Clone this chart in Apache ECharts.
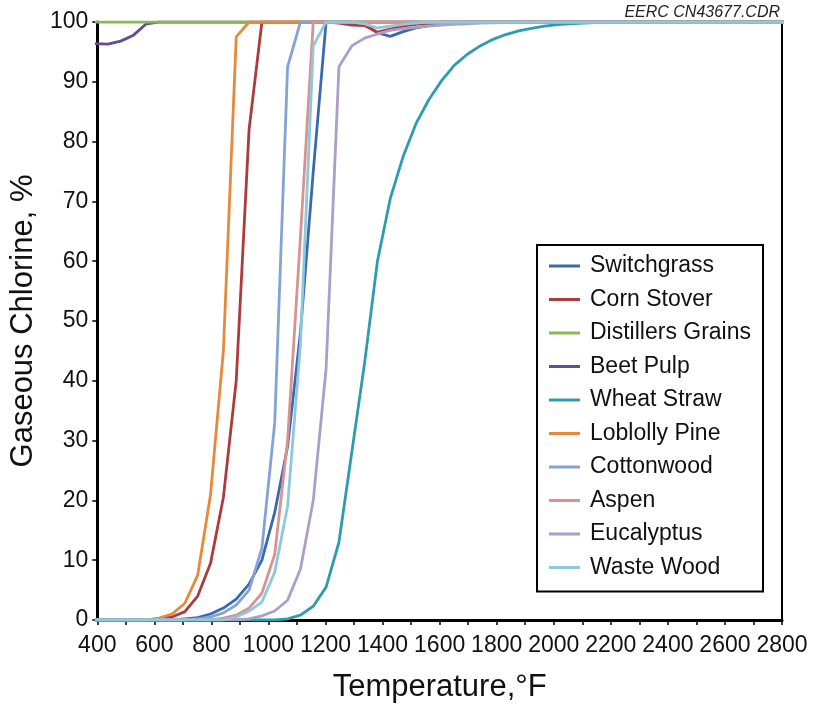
<!DOCTYPE html>
<html>
<head>
<meta charset="utf-8">
<script src="https://cdn.jsdelivr.net/npm/echarts@6/dist/echarts.min.js"></script>
<style>
html,body{margin:0;padding:0;background:#fff;}
#chart{width:817px;height:711px;}
</style>
</head>
<body>
<div id="chart"></div>
<script>
// Data: [temperature °F, gaseous chlorine %]
const seriesNames = ['Switchgrass','Corn Stover','Distillers Grains','Beet Pulp','Wheat Straw','Loblolly Pine','Cottonwood','Aspen','Eucalyptus','Waste Wood'];
const seriesColors = ['#3B69AF','#AE3A3B','#8DB851','#634B98','#2E9CAF','#E8883A','#83A3D8','#D8928F','#AD9DC9','#8CC9DB'];

const switchgrass = [[392,0],[662,0],[707,0.2],[752,0.4],[797,1.0],[842,2.0],[887,3.5],[932,6],[977,10],[1022,18],[1067,29],[1112,48],[1157,75],[1202,100],[1292,100],[1337,99.6],[1382,98.2],[1427,97.6],[1472,98.4],[1517,99.0],[1562,99.4],[1607,99.7],[1652,99.85],[1697,100],[2822,100]];
const cornStover = [[392,0],[572,0],[617,0.2],[662,0.5],[707,1.4],[752,4],[797,9.5],[842,20.5],[887,40],[932,82],[977,100],[1202,100],[1247,99.8],[1292,99.5],[1337,99.4],[1382,98.3],[1427,98.8],[1472,99.3],[1517,99.6],[1562,99.8],[1607,100],[2822,100]];
const distillersGrains = [[392,100],[2822,100]];
const beetPulp = [[392,96.4],[437,96.3],[482,96.8],[527,97.8],[572,99.7],[617,100],[2822,100]];
const wheatStraw = [[392,0],[1022,0],[1067,0.2],[1112,0.8],[1157,2.3],[1202,5.5],[1247,13],[1292,28],[1337,43],[1382,60],[1427,70.5],[1472,77.5],[1517,83],[1562,87],[1607,90.2],[1652,92.8],[1697,94.6],[1742,96],[1787,97.1],[1832,97.9],[1877,98.5],[1922,98.95],[1967,99.3],[2012,99.55],[2057,99.7],[2102,99.8],[2147,99.88],[2192,99.93],[2237,99.96],[2282,100],[2822,100]];
const loblollyPine = [[392,0],[572,0],[617,0.3],[662,1.0],[707,2.8],[752,7.5],[797,21],[842,45],[887,97.5],[932,100],[2822,100]];
const cottonwood = [[392,0],[707,0],[752,0.2],[797,0.5],[842,1.2],[887,2.5],[932,5],[977,12],[1022,33],[1067,92.5],[1112,100],[2822,100]];
const aspen = [[392,0],[797,0],[842,0.3],[887,0.8],[932,2],[977,4.5],[1022,11],[1067,30],[1112,64],[1157,100],[2822,100]];
const eucalyptus = [[392,0],[887,0],[932,0.2],[977,0.7],[1022,1.5],[1067,3.3],[1112,8.5],[1157,20],[1202,42],[1247,92.5],[1292,96],[1337,97.3],[1382,98],[1427,98.6],[1472,98.9],[1517,99.1],[1562,99.3],[1607,99.5],[1652,99.6],[1697,99.7],[1742,99.8],[1787,99.85],[1832,99.9],[1877,100],[2822,100]];
const wasteWood = [[392,0],[842,0],[887,0.5],[932,1.5],[977,3],[1022,8],[1067,19],[1112,46],[1157,96],[1202,100],[1292,100],[1337,99.7],[1382,99.0],[1427,99.3],[1472,99.6],[1517,99.8],[1562,100],[2822,100]];

const seriesData = [switchgrass, cornStover, distillersGrains, beetPulp, wheatStraw, loblollyPine, cottonwood, aspen, eucalyptus, wasteWood];
const seriesZ = [2, 3, 5, 4, 6, 7, 8, 9, 10, 11];

const xMin = 400, xMax = 2800, xStep = 100;
const yMin = 0, yMax = 100, yStep = 10;

const FONT = '"Liberation Sans", Arial, sans-serif';

const chart = echarts.init(document.getElementById('chart'), null, {renderer: 'canvas'});

chart.setOption({
  backgroundColor: '#ffffff',
  animation: false,
  textStyle: {fontFamily: FONT},
  grid: {left: 97, top: 22, right: 35, bottom: 91, show: true, borderColor: '#000', borderWidth: 2, backgroundColor: 'transparent'},
  graphic: [{
    type: 'text', right: 37, top: 5,
    style: {text: 'EERC CN43677.CDR', font: 'italic 16px "Liberation Sans", Arial, sans-serif', fill: '#222'}
  }],
  legend: {
    data: seriesNames,
    orient: 'vertical',
    left: 537, top: 245,
    padding: [9, 12, 12, 12],
    itemGap: 9.5,
    itemWidth: 31, itemHeight: 3,
    icon: 'rect',
    borderColor: '#000', borderWidth: 2,
    backgroundColor: '#fff',
    textStyle: {fontSize: 23, color: '#111', fontFamily: FONT, lineHeight: 24, padding: [0,0,0,5]}
  },
  xAxis: {
    type: 'value', min: xMin, max: xMax, interval: xStep,
    name: 'Temperature,°F', nameLocation: 'middle', nameGap: 52,
    nameTextStyle: {fontSize: 31, color: '#111', fontFamily: FONT},
    axisLine: {show: true, lineStyle: {color: '#000', width: 3}},
    axisTick: {show: true, inside: false, length: 5, lineStyle: {color: '#000', width: 1.5}},
    axisLabel: {fontSize: 23, color: '#111', margin: 14, fontFamily: FONT,
      formatter: v => (v % 200 === 0 ? String(v) : '')},
    splitLine: {show: false}
  },
  yAxis: {
    type: 'value', min: yMin, max: yMax, interval: yStep,
    name: 'Gaseous Chlorine, %', nameLocation: 'middle', nameGap: 51, nameRotate: 90,
    nameTextStyle: {fontSize: 31, color: '#111', fontFamily: FONT},
    axisLine: {show: true, lineStyle: {color: '#000', width: 3}},
    axisTick: {show: true, inside: false, length: 5, lineStyle: {color: '#000', width: 1.5}},
    axisLabel: {fontSize: 23, color: '#111', margin: 9, fontFamily: FONT},
    splitLine: {show: false}
  },
  series: seriesNames.map((name, i) => ({
    name: name,
    type: 'line',
    data: seriesData[i],
    showSymbol: false,
    symbol: 'none',
    clip: true,
    color: seriesColors[i],
    lineStyle: {width: 2.8, color: seriesColors[i]},
    z: seriesZ[i]
  }))
});
</script>
</body>
</html>
